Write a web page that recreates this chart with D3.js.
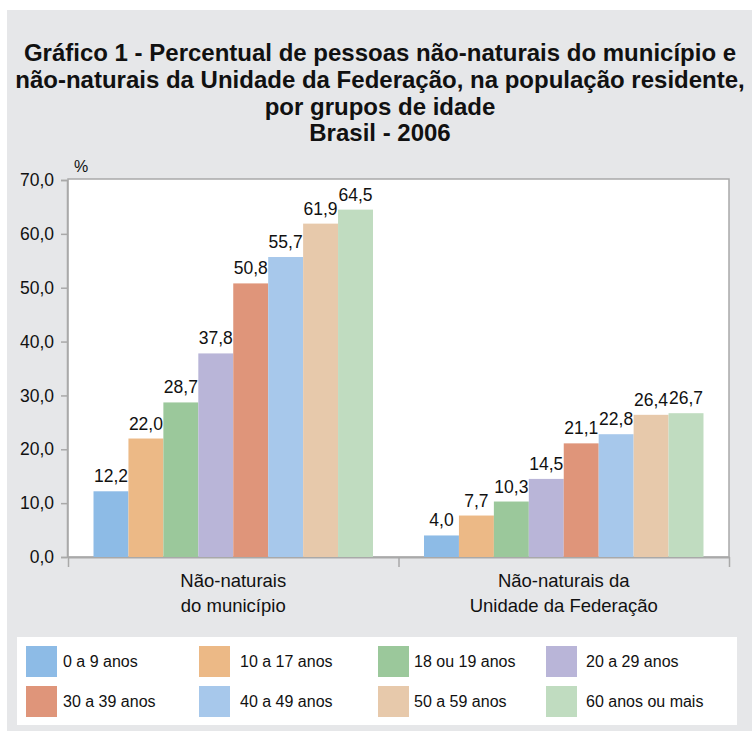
<!DOCTYPE html>
<html>
<head>
<meta charset="utf-8">
<script src="https://cdn.jsdelivr.net/npm/d3@7"></script>
<style>
  body { margin: 0; background: #fff; }
  text { font-family: "Liberation Sans", Arial, sans-serif; }
</style>
</head>
<body>
<div class="canvas"></div>
<script>
// data
const groups = ['Não-naturais\ndo município', 'Não-naturais da\nUnidade da Federação'];
const ageGroups = ['0 a 9 anos', '10 a 17 anos', '18 ou 19 anos', '20 a 29 anos',
                   '30 a 39 anos', '40 a 49 anos', '50 a 59 anos', '60 anos ou mais'];
const municipio = [12.2, 22.0, 28.7, 37.8, 50.8, 55.7, 61.9, 64.5];
const federacao = [4.0, 7.7, 10.3, 14.5, 21.1, 22.8, 26.4, 26.7];
const yTicks = [0, 10, 20, 30, 40, 50, 60, 70];
const colours = ['#8dbbe6', '#ecb986', '#9bc89b', '#b9b5d8',
                 '#df957a', '#a7c8eb', '#e7c9ab', '#c0dcc0'];
const titleLines = ['Gráfico 1 - Percentual de pessoas não-naturais do município e',
                    'não-naturais da Unidade da Federação, na população residente,',
                    'por grupos de idade',
                    'Brasil - 2006'];

const dims = { width: 752, height: 731 };
const plot = { left: 68, right: 729, top: 180, bottom: 557 };
const fmt = v => d3.format('.1f')(v).replace('.', ',');
const gridGray = '#a9a9a9';

const svg = d3.select('.canvas')
    .append('svg')
    .attr('width', dims.width)
    .attr('height', dims.height);

// gray panel
svg.append('rect')
    .attr('x', 7).attr('y', 10)
    .attr('width', dims.width - 7).attr('height', dims.height - 10)
    .attr('fill', '#e6e7e9');

// title (condensed to the width of the widest line)
const title = svg.append('g')
    .attr('font-weight', 'bold')
    .attr('font-size', 24)
    .attr('fill', '#111');

const titleText = title.selectAll('text')
    .data(titleLines)
    .enter().append('text')
        .attr('x', 380)
        .attr('y', (d, i) => 61 + i * 26.8)
        .attr('text-anchor', 'middle')
        .text(d => d);

const squeeze = 730 / titleText.nodes()[1].getComputedTextLength();
titleText.each(function() {
    const w = this.getComputedTextLength();
    if (squeeze < 1) {
        d3.select(this)
            .attr('textLength', w * squeeze)
            .attr('lengthAdjust', 'spacingAndGlyphs');
    }
});

// plot area
svg.append('rect')
    .attr('x', plot.left).attr('y', plot.top - 1)
    .attr('width', plot.right - plot.left).attr('height', plot.bottom - plot.top + 1)
    .attr('fill', '#fff')
    .attr('stroke', gridGray)
    .attr('stroke-width', 1.5);

// scales
const x0 = d3.scaleBand()
    .domain(groups)
    .range([plot.left, plot.right]);

const x1 = d3.scaleBand()
    .domain(ageGroups)
    .range([0, x0.bandwidth()])
    .paddingOuter(0.73);

const y = d3.scaleLinear()
    .domain([0, 70])
    .range([plot.bottom, plot.top]);

const colour = d3.scaleOrdinal().domain(ageGroups).range(colours);

// y axis
const yAxis = d3.axisLeft(y)
    .tickValues(yTicks)
    .tickFormat(fmt)
    .tickSize(6)
    .tickPadding(7);

const yAxisGroup = svg.append('g')
    .attr('transform', `translate(${plot.left - 1},0)`)
    .call(yAxis);
yAxisGroup.select('.domain').attr('stroke', gridGray).attr('stroke-width', 1.5);
yAxisGroup.selectAll('line').attr('stroke', gridGray).attr('stroke-width', 1.5);
yAxisGroup.selectAll('text')
    .attr('font-family', null)
    .attr('font-size', 17.5)
    .attr('fill', '#111');

svg.append('text')
    .attr('x', 74).attr('y', 172)
    .attr('font-size', 16)
    .attr('fill', '#111')
    .text('%');

// x axis with ticks at the group boundaries
const xEdge = d3.scaleLinear().domain([0, groups.length]).range([plot.left, plot.right]);
const xAxis = d3.axisBottom(xEdge)
    .tickValues(d3.range(groups.length + 1))
    .tickFormat('')
    .tickSize(10)
    .tickSizeOuter(0);
const xAxisGroup = svg.append('g')
    .attr('transform', `translate(0,${plot.bottom})`)
    .call(xAxis);
xAxisGroup.select('.domain').attr('stroke', gridGray).attr('stroke-width', 2);
xAxisGroup.selectAll('line').attr('stroke', gridGray).attr('stroke-width', 1.5);

// category labels
svg.selectAll('text.cat')
    .data(groups)
    .enter().append('text')
    .attr('class', 'cat')
    .attr('text-anchor', 'middle')
    .attr('font-size', 18.5)
    .attr('fill', '#111')
    .each(function(d) {
        const lines = d.split('\n');
        const cx = x0(d) + x0.bandwidth() / 2;
        d3.select(this).selectAll('tspan')
            .data(lines)
            .enter().append('tspan')
            .attr('x', cx)
            .attr('y', (l, i) => 587 + i * 24.5)
            .text(l => l);
    });

// bars
const series = [municipio, federacao];
const groupsG = svg.selectAll('g.group')
    .data(groups)
    .enter().append('g')
    .attr('class', 'group')
    .attr('transform', d => `translate(${x0(d)},0)`);

const barData = (d, gi) => ageGroups.map((a, i) => ({ age: a, value: series[gi][i] }));

groupsG.selectAll('rect')
    .data(barData)
    .enter().append('rect')
    .attr('x', d => x1(d.age))
    .attr('y', d => y(d.value))
    .attr('width', x1.bandwidth())
    .attr('height', d => y(0) - y(d.value))
    .attr('fill', d => colour(d.age));

groupsG.selectAll('text')
    .data(barData)
    .enter().append('text')
    .attr('text-anchor', 'middle')
    .attr('font-size', 17.5)
    .attr('fill', '#111')
    .attr('x', d => x1(d.age) + x1.bandwidth() / 2)
    .attr('y', d => y(d.value) - 9)
    .text(d => fmt(d.value));

// legend
const legend = { x: 17, y: 637, width: 720, height: 88 };
svg.append('rect')
    .attr('x', legend.x).attr('y', legend.y)
    .attr('width', legend.width).attr('height', legend.height)
    .attr('fill', '#fff');

const colX = [26, 199, 378, 546];
const textDx = [37, 41, 36, 40];
const rowY = [646, 686];

const items = svg.selectAll('g.legend-item')
    .data(ageGroups)
    .enter().append('g')
    .attr('class', 'legend-item')
    .attr('transform', (d, i) => `translate(${colX[i % 4]},${rowY[Math.floor(i / 4)]})`);

items.append('rect')
    .attr('width', 31).attr('height', 31)
    .attr('fill', d => colour(d));

items.append('text')
    .attr('x', (d, i) => textDx[i % 4])
    .attr('y', 21)
    .attr('font-size', 16)
    .attr('fill', '#111')
    .text(d => d);
</script>
</body>
</html>
